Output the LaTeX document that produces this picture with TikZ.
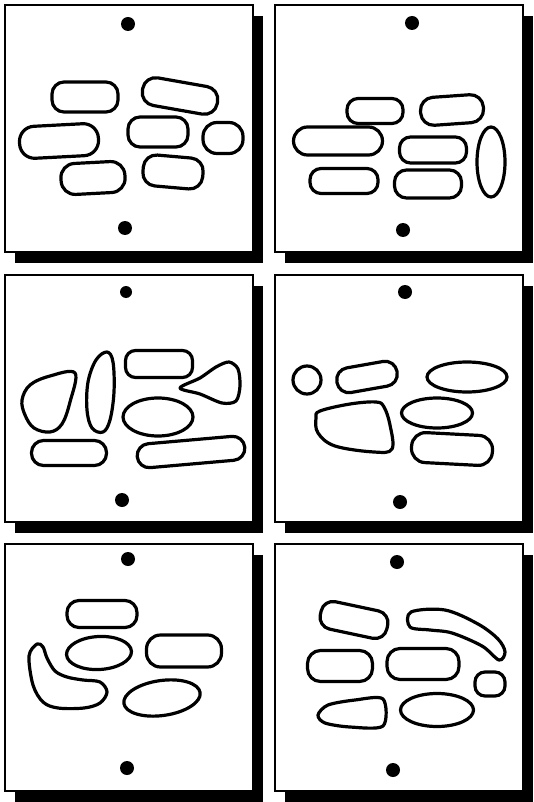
\documentclass[tikz,border=0pt]{standalone}
\begin{document}
\begin{tikzpicture}[x=1pt,y=-1pt,
  blob/.style={draw=black,line width=3.2pt,line join=round},
  frame/.style={draw=black,line width=1.6pt,fill=white},
  shadowbox/.style={fill=black},
  dot/.style={fill=black}]
\newcommand\rr[6]{\draw[blob,rounded corners=#6pt,rotate around={-#5:(#1,#2)}] ({#1-#3/2},{#2-#4/2}) rectangle ({#1+#3/2},{#2+#4/2});}
\newcommand\ov[5]{\draw[blob,rotate around={-#5:(#1,#2)}] (#1,#2) ellipse [x radius=#3/2, y radius=#4/2];}
\useasboundingbox (0,0) rectangle (533,802);
\fill[white] (0,0) rectangle (533,802);
% panels with drop shadows
\foreach \px/\py in {5/5,275/5,5/275,275/275,5/544,275/544}{
  \fill[shadowbox] ({\px+10},{\py+11}) rectangle ({\px+258},{\py+258});
  \draw[frame] (\px,\py) rectangle ({\px+248},{\py+247});
}
% ---------- panel 1 ----------
\fill[dot] (128,24) circle (7pt);
\fill[dot] (125,228) circle (7pt);
\rr{85}{97}{66}{30}{0}{12}
\rr{180}{96}{76}{28}{10}{13}
\rr{59}{141}{79}{32}{-3}{15}
\rr{158}{132}{60}{30}{0}{12}
\rr{223}{138}{40}{31}{0}{14}
\rr{93}{178}{64}{31}{-3}{14}
\rr{173}{172}{60}{31}{5}{13}
% ---------- panel 2 ----------
\fill[dot] (412,23) circle (7pt);
\fill[dot] (403,230) circle (7pt);
\rr{375}{111}{56}{25}{0}{11}
\rr{452}{110}{63}{28}{-4}{13}
\rr{338}{141}{89}{28}{0}{14}
\rr{433}{150}{67}{26}{0}{11}
\ov{491}{162}{28}{70}{0}
\rr{344}{181}{68}{25}{0}{11}
\rr{428}{184}{67}{28}{0}{12}
% ---------- panel 3 ----------
\fill[dot] (126,292) circle (6pt);
\fill[dot] (122,500) circle (7pt);
\draw[blob] plot[smooth cycle,tension=0.6] coordinates {(75,373) (50,376) (30,385) (22,400) (25,415) (34,428) (50,432) (62,424) (70,402)};
\draw[blob] plot[smooth cycle,tension=0.6] coordinates {(107,352) (113,362) (114,392) (110,420) (103,432) (92,428) (87,410) (88,382) (96,360)};
\rr{159}{364}{67}{27}{0}{10}
\draw[blob] plot[smooth cycle,tension=0.5] coordinates {(180,388) (200,378) (216,367) (229,362) (238,369) (240,386) (236,401) (222,403) (200,394)};
\ov{158}{417}{70}{38}{0}
\rr{69}{453}{75}{25}{0}{12}
\rr{191}{452}{108}{24}{-5}{12}
% ---------- panel 4 ----------
\fill[dot] (405,292) circle (7pt);
\fill[dot] (400,502) circle (7pt);
\draw[blob] (307,380) circle (14pt);
\rr{367}{377}{61}{25}{-10}{12}
\ov{467}{377}{80}{30}{0}
\draw[blob] plot[smooth cycle,tension=0.6] coordinates {(320,411) (350,404) (376,402) (384,407) (390,425) (392,449) (374,452) (335,446) (318,433) (316,418)};
\ov{437}{413}{71}{30}{0}
\rr{452}{449}{81}{30}{3}{14}
% ---------- panel 5 ----------
\fill[dot] (128,559) circle (7pt);
\fill[dot] (127,768) circle (7pt);
\rr{102}{614}{70}{27}{0}{12}
\ov{99}{653}{65}{33}{-3}
\rr{184}{651}{75}{32}{0}{14}
\draw[blob] plot[smooth cycle,tension=0.55] coordinates {(37,644) (29,656) (33,685) (43,702) (58,708) (84,708) (100,703) (107,692) (100,682) (83,680) (67,677) (55,671) (47,658) (43,647)};
\ov{162}{698}{77}{35}{-8}
% ---------- panel 6 ----------
\fill[dot] (397,562) circle (7pt);
\fill[dot] (393,770) circle (7pt);
\rr{354}{620}{68}{28}{12}{12}
\draw[blob] plot[smooth cycle,tension=0.55] coordinates {(411,612) (445,610) (478,624) (498,639) (505,652) (499,660) (482,646) (452,633) (430,630) (410,627)};
\rr{340}{666}{65}{31}{0}{13}
\rr{423}{664}{72}{31}{0}{13}
\rr{490}{684}{30}{24}{0}{10}
\draw[blob] plot[smooth cycle,tension=0.5] coordinates {(383,699) (383,726) (350,727) (325,723) (318,715) (328,705) (355,700)};
\ov{437}{710}{73}{33}{0}
\end{tikzpicture}
\end{document}
